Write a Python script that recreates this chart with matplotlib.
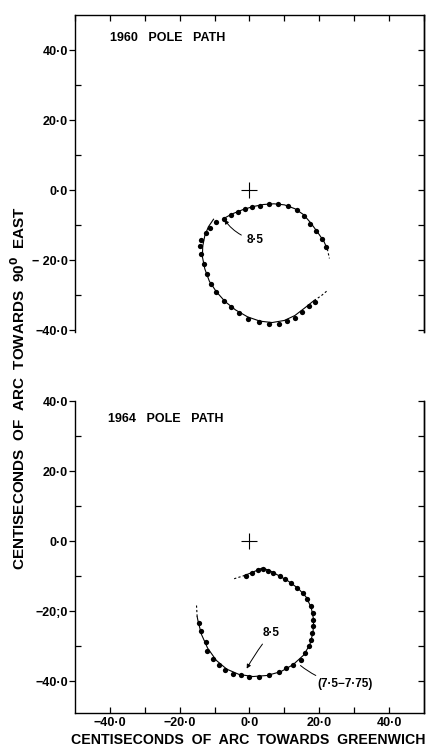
import matplotlib
matplotlib.use("Agg")
import matplotlib.pyplot as plt
from matplotlib.ticker import FixedLocator, FixedFormatter, NullFormatter

plt.rcParams["font.family"] = ["Liberation Sans", "DejaVu Sans"]
plt.rcParams["font.weight"] = "bold"

# 1960 pole path: observed positions (centiseconds of arc)
x_1960 = [-14.3, -13.8, -12.6, -11.2, -9.5, -7.4, -5.4, -3.3, -1.2, 0.8, 3.1, 5.7, 8.3,
          11.0, 13.6, 15.7, 17.3, 19.0, 20.8, 22.0,
          -13.8, -13.1, -12.2, -10.9, -9.5, -7.4, -5.2, -2.9, -0.3, 2.7, 5.7, 8.4,
          10.8, 12.9, 14.9, 17.0, 18.8]
y_1960 = [-16.0, -14.3, -12.2, -10.7, -9.2, -8.1, -7.1, -6.2, -5.5, -4.9, -4.6, -4.1, -4.1,
          -4.6, -5.7, -7.4, -9.7, -11.7, -13.9, -16.2,
          -18.3, -21.2, -24.0, -26.7, -29.0, -31.7, -33.5, -35.2, -36.7, -37.6, -38.1, -38.1,
          -37.3, -36.4, -34.8, -33.1, -31.9]

# 1960 smoothed path
curve60a_x = [-10.3, -11.8, -12.8, -13.4, -13.5, -12.8, -11.5, -9.5, -7.0, -4.0, -0.5, 3.0,
              6.5, 10.0, 13.0, 16.0, 18.5]
curve60a_y = [-8.3, -10.5, -13.0, -16.0, -19.0, -22.5, -26.0, -29.0, -31.8, -34.2, -36.2,
              -37.4, -37.8, -37.2, -35.8, -33.5, -31.5]
dash60a_x = [18.5, 20.5, 22.4]
dash60a_y = [-31.5, -30.2, -28.6]
curve60b_x = [-7.4, -5.0, -2.0, 1.0, 4.0, 7.0, 10.0, 13.0, 15.5, 17.5, 19.5, 21.3, 22.3]
curve60b_y = [-8.1, -6.8, -5.6, -4.7, -4.1, -3.9, -4.2, -5.3, -7.0, -9.3, -12.0, -14.6, -16.8]
dash60b_x = [22.3, 22.9]
dash60b_y = [-16.8, -19.5]

# 1964 pole path: observed positions
x_1964 = [-0.95, 0.8, 2.4, 3.8, 5.2, 6.7, 8.6, 10.3, 11.9, 13.6, 15.2, 16.4, 17.6, 18.1,
          18.3, 18.3, 17.9, 17.6, 17.0, 16.0, 14.8, 12.4, 10.5, 8.4, 5.7, 2.7, -0.2, -2.4,
          -4.8, -6.9, -8.8, -10.5, -12.2, -12.6, -13.8, -14.5]
y_1964 = [-10.0, -9.0, -8.1, -7.8, -8.4, -9.0, -10.0, -10.9, -11.9, -13.3, -14.8, -16.4,
          -18.6, -20.5, -22.4, -24.3, -26.2, -28.1, -30.0, -31.9, -33.8, -35.2, -36.2, -37.3,
          -38.3, -38.6, -38.6, -38.3, -37.9, -36.7, -35.2, -33.6, -31.4, -28.8, -25.7, -23.3]

# 1964 smoothed path
curve64_x = [-1.5, 1.0, 3.5, 5.5, 8.0, 11.0, 14.0, 16.3, 17.7, 18.4, 18.2, 17.3, 15.5, 12.5,
             9.0, 5.0, 1.0, -3.0, -6.5, -9.5, -12.0, -13.8, -14.8, -15.0]
curve64_y = [-9.8, -8.8, -7.7, -8.2, -9.6, -11.3, -13.5, -16.0, -19.0, -22.5, -26.0, -29.5,
             -32.5, -35.2, -37.2, -38.3, -38.6, -38.0, -36.5, -34.0, -30.5, -26.5, -22.5, -21.5]
dash64a_x = [-4.4, -1.5]
dash64a_y = [-10.7, -9.8]
dash64b_x = [-15.0, -15.2]
dash64b_y = [-21.5, -18.0]

ytick_vals = [-40, -20, 0, 20, 40]
ytick_top = ["−40·0", "− 20·0", "0·0", "20·0", "40·0"]
ytick_bot = ["−40·0", "−20;0", "0·0", "20·0", "40·0"]
xtick_vals = [-40, -20, 0, 20, 40]
xtick_labels = ["−40·0", "−20·0", "0·0", "20·0", "40·0"]
minor_10 = [-30, -10, 10, 30]
all_10 = list(range(-50, 51, 10))

fig = plt.figure(figsize=(4.27, 7.47), dpi=100)
ax1 = fig.add_axes([75 / 427, 1 - 332 / 747, 349 / 427, 317 / 747])
ax2 = fig.add_axes([75 / 427, 1 - 713 / 747, 349 / 427, 312 / 747])


def style_axes(ax, ylabels, top_panel):
    ax.set_xlim(-50, 50)
    for sp in ax.spines.values():
        sp.set_linewidth(1.0)
    ax.yaxis.set_major_locator(FixedLocator(ytick_vals))
    ax.yaxis.set_major_formatter(FixedFormatter(ylabels))
    ax.yaxis.set_minor_locator(FixedLocator(minor_10))
    ax.tick_params(axis="y", which="major", direction="out", length=4, width=0.9,
                   labelsize=9, pad=1, right=False)
    ax.tick_params(axis="y", which="minor", direction="in", length=4, width=0.9)
    # right spine ticks, every 10 units, inward
    sec = ax.secondary_yaxis("right")
    sec.set_yticks(list(range(-40, 41, 10)))
    sec.yaxis.set_major_formatter(NullFormatter())
    sec.tick_params(direction="in", length=4, width=0.9)
    sec.spines["right"].set_linewidth(1.0)
    if top_panel:
        ax.spines["bottom"].set_visible(False)
        ax.xaxis.set_major_locator(FixedLocator(all_10))
        ax.tick_params(axis="x", which="both", direction="in", length=4, width=0.9,
                       bottom=False, top=True, labelbottom=False)
    else:
        ax.spines["top"].set_visible(False)
        ax.xaxis.set_major_locator(FixedLocator(xtick_vals))
        ax.xaxis.set_major_formatter(FixedFormatter(xtick_labels))
        ax.xaxis.set_minor_locator(FixedLocator(minor_10))
        ax.tick_params(axis="x", which="both", direction="in", length=4, width=0.9,
                       labelsize=9, top=False, pad=3)
    for lab in ax.get_xticklabels() + ax.get_yticklabels():
        lab.set_fontweight("bold")


# top panel: 1960
ax1.set_ylim(-40.5, 50)
style_axes(ax1, ytick_top, True)
ax1.plot(curve60a_x, curve60a_y, color="black", lw=0.8)
ax1.plot(dash60a_x, dash60a_y, color="black", lw=0.8, ls=(0, (2, 2)))
ax1.plot(curve60b_x, curve60b_y, color="black", lw=0.8)
ax1.plot(dash60b_x, dash60b_y, color="black", lw=0.8, ls=(0, (2, 2)))
ax1.plot(x_1960, y_1960, "o", color="black", ms=3.8, mew=0)
ax1.plot([0], [0], "+", color="black", ms=12, mew=0.8)
ax1.text(-40, 43.5, "1960   POLE   PATH", fontsize=9, fontweight="bold",
         ha="left", va="center")
ax1.annotate("8·5", xy=(-7.4, -8.1), xytext=(1.6, -14.3), fontsize=8.5, fontweight="bold",
             ha="center", va="center",
             arrowprops=dict(arrowstyle="-|>", color="black", lw=0.7, mutation_scale=6,
                             connectionstyle="arc3,rad=-0.2", shrinkA=2, shrinkB=1))

# bottom panel: 1964
ax2.set_ylim(-49, 40)
style_axes(ax2, ytick_bot, False)
ax2.plot(curve64_x, curve64_y, color="black", lw=0.8)
ax2.plot(dash64a_x, dash64a_y, color="black", lw=0.8, ls=(0, (2, 2)))
ax2.plot(dash64b_x, dash64b_y, color="black", lw=0.8, ls=(0, (2, 2)))
ax2.plot(x_1964, y_1964, "o", color="black", ms=3.8, mew=0)
ax2.plot([0], [0], "+", color="black", ms=12, mew=0.8)
ax2.text(-40.5, 35, "1964   POLE   PATH", fontsize=9, fontweight="bold",
         ha="left", va="center")
ax2.annotate("8·5", xy=(-1.0, -36.7), xytext=(6.2, -26.2), fontsize=8.5, fontweight="bold",
             ha="center", va="center",
             arrowprops=dict(arrowstyle="-|>", color="black", lw=0.7, mutation_scale=6,
                             connectionstyle="arc3,rad=0.05", shrinkA=2, shrinkB=1))
ax2.annotate("(7·5−7·75)", xy=(14.3, -35.2), xytext=(27.5, -40.8), fontsize=8.5,
             fontweight="bold", ha="center", va="center",
             arrowprops=dict(arrowstyle="-", color="black", lw=0.7,
                             connectionstyle="arc3,rad=-0.15", shrinkA=0, shrinkB=1))

fig.text(248 / 427, 1 - 740 / 747, "CENTISECONDS  OF  ARC  TOWARDS  GREENWICH",
         fontsize=10.2, fontweight="bold", ha="center", va="center")
fig.text(19 / 427, 1 - 388 / 747, "CENTISECONDS  OF  ARC  TOWARDS  90$^{\\mathbf{0}}$  EAST",
         fontsize=11, fontweight="bold", ha="center", va="center", rotation=90)

fig.savefig("out.png", dpi=100)
